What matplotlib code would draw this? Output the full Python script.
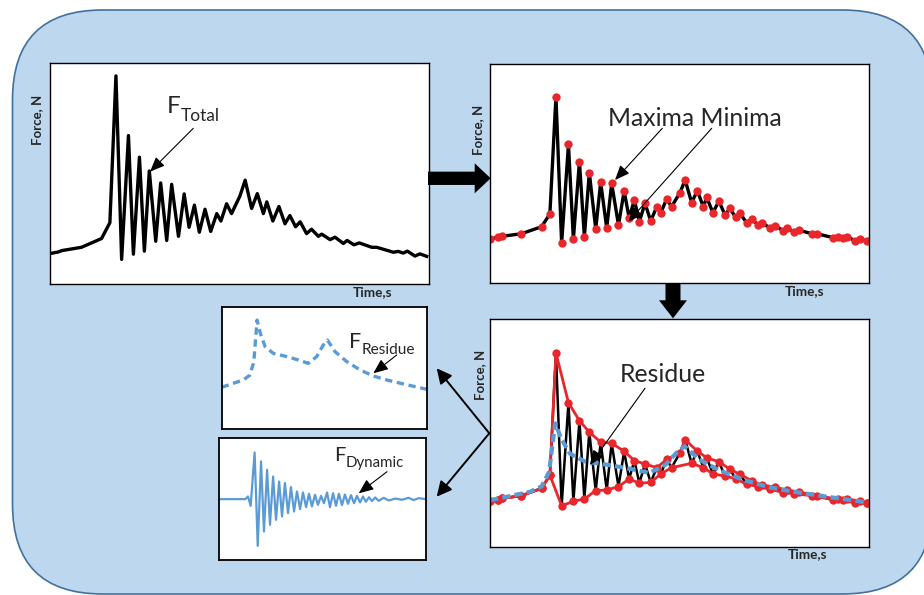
import numpy as np
import matplotlib
matplotlib.use("Agg")
import matplotlib.pyplot as plt
from matplotlib.patches import FancyBboxPatch

plt.rcParams['font.family'] = ['Lato', 'DejaVu Sans']

# total force: extrema picked off the signal (time and force in arbitrary units, 0-100)
t_pts = [0, 2.2, 3.1, 8.3, 13.6, 15.8,
         17.4, 18.9, 20.7, 22.0, 23.6, 24.9, 26.2, 27.9, 29.2, 30.8, 32.1,
         33.9, 35.4, 36.7, 38.1, 39.4, 40.9, 42.4, 44.0, 45.1, 46.6, 47.9,
         50.1, 51.5,
         53.2, 54.7, 56.3, 57.2, 58.8, 60.4, 62.0, 63.3, 64.8, 66.0, 67.7,
         69.0, 70.8, 71.7, 73.9, 75.2, 77.4, 78.4, 80.2, 81.6, 84.9, 86.2,
         90.6, 91.9, 93.2, 94.3, 96.3, 97.6,
         99.4]
f_pts = [20.2, 20.8, 21.3, 22.5, 25.7, 31.5,
         85.1, 18.1, 63.3, 20.0, 55.4, 21.1, 50.4, 24.7, 46.0, 25.0, 45.5,
         26.5, 42.0, 29.8, 37.9, 28.0, 36.4, 28.3, 34.8, 32.1, 38.4, 34.8,
         41.2, 47.0,
         36.7, 42.1, 34.8, 39.1, 32.1, 37.4, 31.1, 34.1, 30.0, 31.8, 27.5,
         29.1, 26.5, 27.3, 25.3, 26.2, 23.9, 25.0, 23.4, 24.1, 22.5, 22.5,
         20.7, 21.0, 20.4, 21.1, 19.3, 20.1,
         19.2]
# b = on both envelopes, M = maximum, m = minimum
kind = "bbbbbb" + "Mm" * 11 + "MM" + "mM" * 14 + "b"

# residue (mean trend)
t_res = [0, 10.5, 13.6, 15.6, 17.2, 18.8, 21.1, 25.1, 31.6, 37.3, 42.1,
         46.2, 49.4, 51.4, 55.1, 60.8, 67.3, 73.7, 80.2, 88.3, 99.7]
f_res = [20.5, 24.2, 26.5, 33.0, 54.2, 47.5, 40.9, 37.5, 35.9, 34.2, 32.5,
         35.9, 41.7, 44.2, 38.4, 33.4, 29.2, 26.2, 24.2, 22.2, 19.5]

# dynamic part (oscillation around zero)
t_dyn = [0, 12.8, 14.1, 15.4, 17.3, 18.8, 20.4, 21.8, 23.3, 24.7, 26.2,
         27.6, 29.1, 30.5, 31.9, 33.4, 34.8, 36.3, 37.7, 39.2, 40.6, 42.1,
         43.5, 44.9, 46.4, 47.8, 49.3, 50.7, 52.2, 53.6, 55.1, 56.5, 57.9,
         59.4, 60.8, 62.3, 63.7, 65.2, 66.6, 68.1, 69.5, 70.9, 72.4, 73.8,
         75.4, 77.0, 79.5, 81.9, 85.1, 88.3, 91.5, 93.9, 96.3, 100]
f_dyn = [0, 0, 2.2, -5.5, 38.4, -38.4, 31.0, -26.6, 24.1, -21.1, 18.6,
         -17.0, 14.5, -14.2, 13.2, -11.5, 9.9, -10.1, 6.3, -8.2, 5.5, -6.6,
         4.4, -6.0, 3.6, -4.7, 2.7, -3.3, 5.5, -6.6, 4.9, -5.5, 4.4,
         -4.9, 3.8, -3.8, 3.3, -3.3, 2.7, -2.7, 2.2, -2.2, 1.6, -1.6,
         1.4, -1.4, 1.1, -1.1, 0.5, -0.5, 1.1, -0.8, 0.8, 0]

t_up = [t for t, k in zip(t_pts, kind) if k in "bM"]
f_up = [f for f, k in zip(f_pts, kind) if k in "bM"]
t_lo = [t for t, k in zip(t_pts, kind) if k in "bm"]
f_lo = [f for f, k in zip(f_pts, kind) if k in "bm"]

W, H = 924, 595
RED = '#E8262B'
BLUE = '#5B9BD5'
TXT = '#262626'

fig = plt.figure(figsize=(W / 100, H / 100), dpi=100)

# background with the rounded blue box
bg = fig.add_axes([0, 0, 1, 1], zorder=0)
bg.set_xlim(0, W)
bg.set_ylim(H, 0)
bg.axis('off')
bg.add_patch(FancyBboxPatch((12.5, 10), 920, 584,
                            boxstyle="round,pad=0,rounding_size=90",
                            fc='#BDD7EE', ec='#41719C', lw=1.2))


def panel(x0, y0, x1, y1, ylim, lw=1.0):
    ax = fig.add_axes([x0 / W, 1 - y1 / H, (x1 - x0) / W, (y1 - y0) / H], zorder=1)
    ax.set_facecolor('white')
    ax.set_xlim(0, 100)
    ax.set_ylim(*ylim)
    ax.set_xticks([])
    ax.set_yticks([])
    for s in ax.spines.values():
        s.set_linewidth(lw)
        s.set_color('black')
    return ax


# panel 1: total force
ax1 = panel(50, 63, 429, 284, (9.1, 89.8))
ax1.plot(t_pts, f_pts, color='black', lw=2.4, solid_joinstyle='round')

# panel 2: maxima / minima
ax2 = panel(490, 64, 869, 283, (0, 100))
ax2.plot(t_pts, f_pts, color='black', lw=2.4, solid_joinstyle='round')
ax2.plot(t_pts, f_pts, 'o', color=RED, ms=6, mec='none')

# panel 3: envelopes and residue
ax3 = panel(490, 319, 869, 547, (0, 100))
ax3.plot(t_pts, f_pts, color='black', lw=1.8, solid_joinstyle='round')
ax3.plot(t_up, f_up, color=RED, lw=2.0, marker='o', ms=6, mec='none')
ax3.plot(t_lo, f_lo, color=RED, lw=2.0, marker='o', ms=6, mec='none')
ax3.plot(t_res, f_res, color=BLUE, lw=3.0, dashes=(2.0, 1.0))

# small panels
ax4 = panel(221.7, 307.3, 427.3, 429, (-0.4, 60.6), lw=1.3)
ax4.plot(t_res, f_res, color=BLUE, lw=2.4, dashes=(2.2, 1.4))

ax5 = panel(218.7, 438.3, 426.3, 560, (-50, 50), lw=1.3)
ax5.plot(t_dyn, f_dyn, color=BLUE, lw=1.6)

# overlay for labels and arrows (pixel coordinates)
top = fig.add_axes([0, 0, 1, 1], zorder=5)
top.set_xlim(0, W)
top.set_ylim(H, 0)
top.axis('off')
top.patch.set_alpha(0)

for x, y in [(37, 120), (478, 130), (480, 375)]:
    top.text(x, y, 'Force, N', rotation=90, ha='center', va='center',
             fontsize=9.5, fontweight='bold', color=TXT)
for x, y in [(353, 292), (785, 291), (788, 554)]:
    top.text(x, y, 'Time,s', ha='left', va='center',
             fontsize=9.8, fontweight='bold', color=TXT)


def sub_label(x, y, sub, dy, big, small):
    t = top.text(x, y, 'F', fontsize=big, color=TXT, va='baseline', ha='left')
    fig.canvas.draw()
    bb = t.get_window_extent()
    x_sub = top.transData.inverted().transform((bb.x1, bb.y0))[0]
    top.text(x_sub + 0.5, y + dy, sub, fontsize=small, color=TXT,
             va='baseline', ha='left')


sub_label(166.7, 113.3, 'Total', 7.7, 17.5, 12.5)
sub_label(349.3, 348.3, 'Residue', 5.7, 15.5, 11.2)
sub_label(333.7, 460.7, 'Dynamic', 6.0, 14.5, 10.8)

top.text(607.7, 125.7, 'Maxima Minima', fontsize=17.8, color=TXT, va='baseline')
top.text(620, 382.3, 'Residue', fontsize=17.8, color=TXT, va='baseline')

thin = dict(arrowstyle='-|>,head_length=0.6,head_width=0.25', lw=0.8,
            color='black', mutation_scale=15, shrinkA=0, shrinkB=0)
for (xa, ya), (xb, yb) in [((193.3, 128.3), (150, 171.7)),
                           ((662.3, 128.3), (615, 180)),
                           ((711.7, 128.3), (628.3, 221.7)),
                           ((645, 388.3), (590, 465)),
                           ((396.7, 355), (373.3, 373.3)),
                           ((387, 471.7), (358.7, 493.3))]:
    top.annotate('', xy=(xb, yb), xytext=(xa, ya), arrowprops=thin)

link = dict(arrowstyle='-|>,head_length=0.6,head_width=0.3', lw=1.4,
            color='black', mutation_scale=15, shrinkA=0, shrinkB=0)
top.annotate('', xy=(436.7, 368.3), xytext=(489.3, 433.3), arrowprops=link)
top.annotate('', xy=(436.7, 496.7), xytext=(489.3, 433.3), arrowprops=link)

# block arrows between the main panels
top.arrow(428, 178.3, 62.7, 0, width=13.3, head_width=30, head_length=16,
          length_includes_head=True, color='black', lw=0)
top.arrow(673, 283, 0, 35.3, width=15, head_width=28, head_length=18,
          length_includes_head=True, color='black', lw=0)

fig.savefig('out.png', dpi=100)
